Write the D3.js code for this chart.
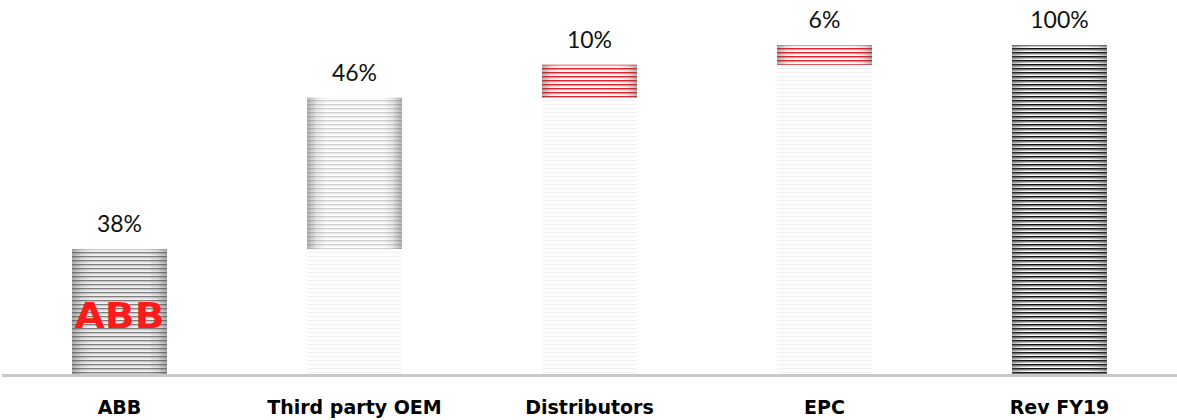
<!DOCTYPE html>
<html>
<head>
<meta charset="utf-8">
<script src="https://cdn.jsdelivr.net/npm/d3@7"></script>
<style>
  body { margin: 0; background: #fff; }
  .valueText { font-family: Lato, "Open Sans", sans-serif; font-size: 23px; fill: #111; }
  .catText { font-family: "DejaVu Sans", sans-serif; font-size: 19px; font-weight: bold; fill: #000; }
</style>
</head>
<body>
<div id="chart"></div>
<script>
// chart data
var categories = ["ABB", "Third party OEM", "Distributors", "EPC", "Rev FY19"];
var values = [38, 46, 10, 6, 100];
var valueLabels = ["38%", "46%", "10%", "6%", "100%"];
var isTotal = [false, false, false, false, true];

// set parameters/spacing
var svgWidth = 1177;
var svgHeight = 420;
var baseY = 374;
var topY = 45;

var svg = d3.select("#chart")
  .append("svg")
  .attr("width", svgWidth)
  .attr("height", svgHeight);

// build waterfall rows
var running = 0;
var rows = categories.map(function(c, i) {
  var start = isTotal[i] ? 0 : running;
  var end = isTotal[i] ? values[i] : running + values[i];
  if (!isTotal[i]) running = end;
  return { cat: c, start: start, end: end, label: valueLabels[i], i: i };
});

var xScale = d3.scaleBand()
  .domain(categories)
  .range([2, 1177])
  .paddingInner(0.596)
  .paddingOuter(0.298);

var yScale = d3.scaleLinear()
  .domain([0, 100])
  .range([baseY, topY]);

// stripe patterns
var defs = svg.append("defs");

function stripe(id, bg, lines) {
  var p = defs.append("pattern")
    .attr("id", id)
    .attr("patternUnits", "userSpaceOnUse")
    .attr("width", 8)
    .attr("height", 4);
  p.append("rect").attr("width", 8).attr("height", 4).attr("fill", bg);
  lines.forEach(function(l) {
    p.append("rect")
      .attr("y", l[0])
      .attr("width", 8)
      .attr("height", l[1])
      .attr("fill", l[2]);
  });
}

stripe("pGrey", "#f2f2f2", [[0, 1.3, "#7f7f7f"], [1.3, 1, "#c4c4c4"]]);
stripe("pLight", "#ffffff", [[0, 1.3, "#d0d0d0"], [1.3, 1, "#ebebeb"]]);
stripe("pRed", "#ffffff", [[0, 1.4, "#ee1c25"], [1.4, 0.8, "#b0b0b0"]]);
stripe("pBlack", "#ffffff", [[0, 1.6, "#111111"], [1.6, 0.9, "#8c8c8c"]]);
stripe("pGhost", "#ffffff", [[0, 1.2, "#f1f1f1"]]);

var edge = defs.append("linearGradient")
  .attr("id", "edgeShade")
  .attr("x1", "0%").attr("x2", "100%")
  .attr("y1", "0%").attr("y2", "0%");
[[0, 0.45], [0.1, 0.12], [0.2, 0], [0.8, 0], [0.9, 0.12], [1, 0.45]].forEach(function(s) {
  edge.append("stop")
    .attr("offset", s[0])
    .attr("stop-color", "#555")
    .attr("stop-opacity", s[1]);
});

var fills = ["pGrey", "pLight", "pRed", "pRed", "pBlack"];

// ghost bars underneath floating steps
svg.selectAll(".ghost")
  .data(rows.filter(d => d.start > 0))
  .enter()
  .append("rect")
  .attr("class", "ghost")
  .attr("x", d => xScale(d.cat))
  .attr("width", xScale.bandwidth())
  .attr("y", d => yScale(d.start))
  .attr("height", d => yScale(0) - yScale(d.start))
  .attr("fill", "url(#pGhost)");

// bars
svg.selectAll(".bar")
  .data(rows)
  .enter()
  .append("rect")
  .attr("class", "bar")
  .attr("x", d => xScale(d.cat))
  .attr("width", xScale.bandwidth())
  .attr("y", d => yScale(d.end))
  .attr("height", d => yScale(d.start) - yScale(d.end))
  .attr("fill", d => "url(#" + fills[d.i] + ")");

svg.selectAll(".shade")
  .data(rows)
  .enter()
  .append("rect")
  .attr("class", "shade")
  .attr("x", d => xScale(d.cat))
  .attr("width", xScale.bandwidth())
  .attr("y", d => yScale(d.end))
  .attr("height", d => yScale(d.start) - yScale(d.end))
  .attr("fill", "url(#edgeShade)");

// ABB logo in the first bar
var abb = rows[0];
svg.append("text")
  .attr("x", xScale(abb.cat) + xScale.bandwidth() / 2)
  .attr("y", 328)
  .attr("text-anchor", "middle")
  .attr("font-family", "'DejaVu Sans', sans-serif")
  .attr("font-weight", "bold")
  .attr("font-size", 36)
  .attr("textLength", 90)
  .attr("lengthAdjust", "spacingAndGlyphs")
  .attr("fill", "#ff1a1a")
  .text("ABB");

// axis line
svg.append("line")
  .attr("x1", 2).attr("x2", 1177)
  .attr("y1", baseY + 1.5).attr("y2", baseY + 1.5)
  .attr("stroke", "#c8c8c8")
  .attr("stroke-width", 3);

// value labels
svg.selectAll(".valueText")
  .data(rows)
  .enter()
  .append("text")
  .attr("class", "valueText")
  .attr("x", d => xScale(d.cat) + xScale.bandwidth() / 2)
  .attr("y", d => yScale(d.end) - 17)
  .attr("text-anchor", "middle")
  .text(d => d.label);

// category labels
svg.selectAll(".catText")
  .data(rows)
  .enter()
  .append("text")
  .attr("class", "catText")
  .attr("x", d => xScale(d.cat) + xScale.bandwidth() / 2)
  .attr("y", 414)
  .attr("text-anchor", "middle")
  .text(d => d.cat);
</script>
</body>
</html>
